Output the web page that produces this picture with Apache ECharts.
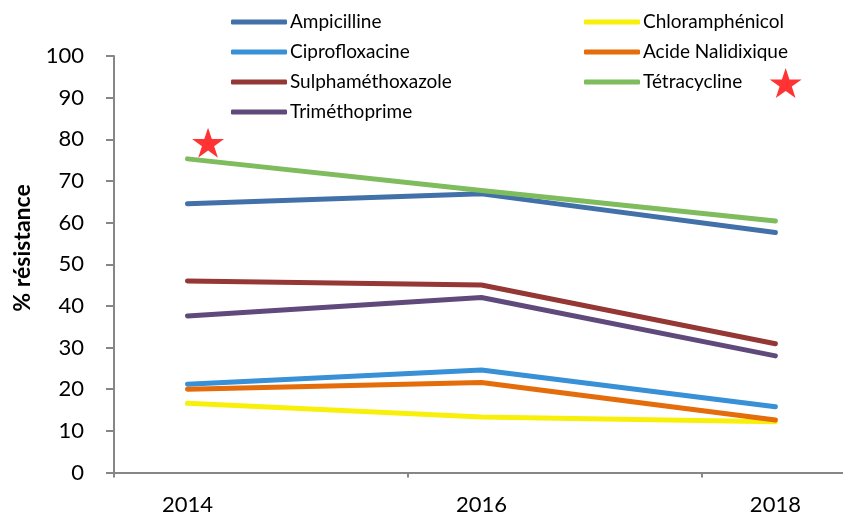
<!DOCTYPE html>
<html>
<head>
<meta charset="utf-8">
<script src="https://cdn.jsdelivr.net/npm/echarts@6/dist/echarts.min.js"></script>
<style>
  html, body { margin: 0; padding: 0; background: #fff; }
  #chart { width: 843px; height: 517px; }
</style>
</head>
<body>
<div id="chart"></div>
<script>
// years on the x axis
const years = [2014, 2016, 2018];

// % resistance per antibiotic
const ampicilline = [64.5, 66.9, 57.6];
const chloramphenicol = [16.6, 13.3, 12.2];
const ciprofloxacine = [21.2, 24.6, 15.8];
const acideNalidixique = [20.0, 21.6, 12.6];
const sulphamethoxazole = [46.0, 45.0, 30.9];
const tetracycline = [75.3, 67.7, 60.4];
const trimethoprime = [37.6, 42.0, 28.0];

// red star annotations [x, y]
const stars = [[2014.14, 79.2], [2018.07, 93.5]];

const yTicks = [0, 10, 20, 30, 40, 50, 60, 70, 80, 90, 100];
const xTickMarks = [2013.5, 2015.5, 2017.5];

const FONT = 'Lato';
const AXIS_GREY = '#868686';

const seriesDefs = [
  { name: 'Ampicilline', data: ampicilline, color: '#4270A8' },
  { name: 'Chloramphénicol', data: chloramphenicol, color: '#F8F00A' },
  { name: 'Ciprofloxacine', data: ciprofloxacine, color: '#3890D6' },
  { name: 'Acide Nalidixique', data: acideNalidixique, color: '#E46C0A' },
  { name: 'Sulphaméthoxazole', data: sulphamethoxazole, color: '#953735' },
  { name: 'Tétracycline', data: tetracycline, color: '#7EBC5E' },
  { name: 'Triméthoprime', data: trimethoprime, color: '#604A7B' }
];

const lineSeries = seriesDefs.map(s => ({
  name: s.name,
  type: 'line',
  symbol: 'none',
  data: years.map((y, i) => [y, s.data[i]]),
  color: s.color,
  lineStyle: { width: 5, color: s.color, cap: 'round', join: 'round' },
  emphasis: { disabled: true },
  animation: false
}));

const STAR = 'path://M50,0 L61.2,34.5 L97.6,34.5 L68.2,55.9 L79.4,90.5 L50,69.1 L20.6,90.5 L31.8,55.9 L2.4,34.5 L38.8,34.5 Z';

const legendCommon = {
  orient: 'vertical',
  icon: 'roundRect',
  padding: 0,
  itemWidth: 56,
  itemHeight: 5,
  itemGap: 10,
  textStyle: { fontFamily: FONT, fontSize: 19, lineHeight: 20, color: '#000', padding: [0, 0, 0, -2] }
};

const chart = echarts.init(document.getElementById('chart'), null, { renderer: 'canvas' });
chart.setOption({
  animation: false,
  backgroundColor: '#fff',
  grid: { left: 114, right: 0, top: 56, bottom: 44.5 },
  legend: [
    Object.assign({}, legendCommon, {
      left: 231, top: 12,
      data: ['Ampicilline', 'Ciprofloxacine', 'Sulphaméthoxazole', 'Triméthoprime']
    }),
    Object.assign({}, legendCommon, {
      left: 584, top: 12,
      data: ['Chloramphénicol', 'Acide Nalidixique', 'Tétracycline']
    })
  ],
  xAxis: {
    type: 'value',
    min: 2013.5,
    max: 2018.46,
    splitLine: { show: false },
    axisLine: { show: true, lineStyle: { color: AXIS_GREY, width: 2 } },
    axisTick: { show: true, length: 5, customValues: xTickMarks, lineStyle: { color: AXIS_GREY, width: 2 } },
    axisLabel: {
      customValues: years,
      margin: 21,
      fontFamily: FONT, fontSize: 22, color: '#000',
      formatter: v => String(v)
    }
  },
  yAxis: {
    type: 'value',
    min: 0,
    max: 100,
    interval: 10,
    splitLine: { show: false },
    axisLine: { show: true, lineStyle: { color: AXIS_GREY, width: 2 } },
    axisTick: { show: true, length: 8, lineStyle: { color: AXIS_GREY, width: 2 } },
    axisLabel: {
      margin: 30,
      fontFamily: FONT, fontSize: 22, color: '#000',
      formatter: v => (yTicks.indexOf(v) >= 0 ? String(v) : '')
    }
  },
  graphic: [{
    type: 'text',
    x: 23,
    y: 248,
    rotation: Math.PI / 2,
    style: {
      text: '% résistance',
      font: 'bold 23px ' + FONT,
      fill: '#000',
      align: 'center',
      verticalAlign: 'middle'
    }
  }],
  series: lineSeries.concat([{
    name: 'stars',
    type: 'scatter',
    symbol: STAR,
    symbolSize: [32, 30],
    data: stars,
    itemStyle: { color: '#FF0000' },
    emphasis: { disabled: true },
    z: 5
  }])
});
</script>
</body>
</html>
